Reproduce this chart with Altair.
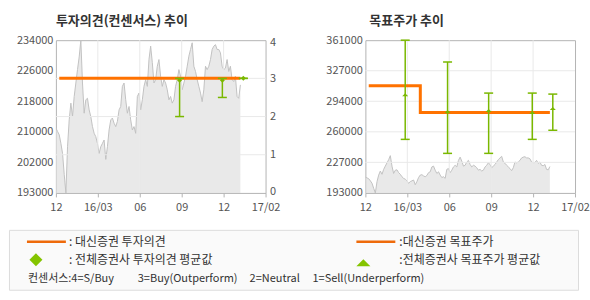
import json
import altair as alt
import numpy as np
import pandas as pd

# ---------------- data ----------------
x_labels = ["12", "16/03", "06", "09", "12", "17/02"]

# daily close, evenly spaced trading days
price = [
    210400, 209500, 208600, 206300, 203600, 198000, 193000, 205400, 212600, 217100,
    213500, 218900, 222500, 226100, 229500, 234000, 222500, 214400, 218000, 218400,
    215300, 213500, 210800, 209000, 208100, 206300, 203600, 205400, 206300, 207200,
    202000, 205400, 209900, 212600, 213100, 211700, 210800, 212200, 215300, 216200,
    221600, 222500, 218000, 214400, 216200, 212600, 209900, 210800, 209000, 218900,
    219800, 215300, 218000, 221600, 223400, 221600, 228800, 232400, 228000, 222500,
    223400, 227000, 228800, 224300, 221600, 223400, 222500, 220700, 218000, 218900,
    217100, 218000, 221600, 223400, 226100, 224300, 220700, 222500, 224300, 227000,
    229700, 231500, 233300, 227000, 225600, 223400, 221600, 219800, 217500, 220700,
    227000, 226100, 227000, 228800, 231500, 232400, 232800, 231500, 231500, 230600,
    227000, 226100, 226500, 228800, 225600, 227000, 223400, 222900, 224300, 218900,
    218400, 222000,
]
price_last_pos = 4.40

left_y_labels = ["193000", "202000", "210000", "218000", "226000", "234000"]
right_y_labels = ["193000", "227000", "260000", "294000", "327000", "361000"]
opinion_ticks = [0, 1, 2, 3, 4]

# Daishin opinion (held flat)
op_start = [0.08]
op_end = [4.40]
op_value = [3]
# consensus opinion range / average
cop_pos = [2.95, 3.97, 4.47]
cop_lo = [2.0, 2.5, 3.0]
cop_hi = [3.0, 3.0, 3.0]
cop_mean = [2.95, 2.95, 3.0]

# Daishin target price (step)
tp_pos = [0.08, 1.31, 4.40]
tp_val = [310900, 281400, 281400]
# consensus target price range / average
ctp_pos = [0.95, 1.96, 2.94, 3.98, 4.47]
ctp_hi = [361000, 337000, 302800, 302800, 301700]
ctp_lo = [251900, 236500, 236500, 251900, 261900]
ctp_mean = [300900, 282500, 283600, 281400, 285800]

legend_texts = [
    ": 대신증권 투자의견",
    ": 전체증권사 투자의견 평균값",
    ":대신증권 목표주가",
    ":전체증권사 목표주가 평균값",
]
consensus_note = ["컨센서스:4=S/Buy", "3=Buy(Outperform)", "2=Neutral", "1=Sell(Underperform)"]

# ---------------- style ----------------
ORANGE = "#ff7200"
LEG_ORANGE = "#ee6a0a"
GREEN = "#7ab800"
GRID = "#e9e9e9"
FONT = "Noto Sans CJK KR"
LABEL = "#555555"
W, H = 210, 153
TRI = "M-1,0.5L1,0.5L0,-0.5Z"
LEFT_EXT = 47  # distance from plot edge to the outer frame on the left

x_scale = alt.Scale(domain=[0, len(x_labels) - 1], nice=False, zero=False)
x_axis = alt.Axis(
    values=list(range(len(x_labels))),
    labelExpr=f"{json.dumps(x_labels)}[round(datum.value)]",
    grid=False, domain=False, ticks=True, tickSize=4, tickColor="#b4b4b4",
    labelPadding=5, labelFlush=False, labelOverlap=False, title=None,
    labelFontSize=11, labelColor=LABEL, labelFont=FONT,
)


def X(field):
    return alt.X(f"{field}:Q", scale=x_scale, axis=x_axis)


def value_axis(labels, lo, hi, orient):
    step = (hi - lo) / (len(labels) - 1)
    vals = [lo + i * step for i in range(len(labels))]
    return vals, alt.Axis(
        orient=orient, values=vals,
        labelExpr=f"{json.dumps(labels)}[round((datum.value-{lo})/{step})]",
        grid=False, ticks=False, domain=False, labelPadding=3, title=None,
        labelFontSize=11, labelColor=LABEL, labelFont=FONT,
    )


price_df = pd.DataFrame({"pos": np.linspace(0, price_last_pos, len(price)), "price": price})
vgrid_df = pd.DataFrame({"v": list(range(1, len(x_labels) - 1))})

# ---------------- left chart: opinion ----------------
lp_lo, lp_hi = int(left_y_labels[0]), 234000
_, lp_axis = value_axis(left_y_labels, lp_lo, lp_hi, "left")
lp_y = alt.Y("price:Q", scale=alt.Scale(domain=[lp_lo, lp_hi], nice=False, zero=False), axis=lp_axis)

area_l = alt.Chart(price_df).mark_area(
    color="#e0e0e0", line={"color": "#c2c2c2", "strokeWidth": 1}, clip=True
).encode(x=X("pos"), y=lp_y)

op_scale = alt.Scale(domain=[opinion_ticks[0], opinion_ticks[-1]], nice=False, zero=False)
op_axis = alt.Axis(orient="right", values=opinion_ticks, grid=False, ticks=False, domain=False,
                   labelFlush=True, labelFlushOffset=4,
                   labelPadding=4, title=None, labelFontSize=11, labelColor=LABEL, labelFont=FONT)


def OY(field):
    return alt.Y(f"{field}:Q", scale=op_scale, axis=op_axis)


hgrid_l = alt.Chart(pd.DataFrame({"v": opinion_ticks[1:-1]})).mark_rule(color=GRID).encode(y=OY("v"))
vgrid_l = alt.Chart(vgrid_df).mark_rule(color=GRID).encode(x=X("v"))
op_df = pd.DataFrame({"s": op_start, "e": op_end, "v": op_value})
op_line = alt.Chart(op_df).mark_rule(color=ORANGE, strokeWidth=3).encode(x=X("s"), x2="e:Q", y=OY("v"))
cop_df = pd.DataFrame({"pos": cop_pos, "lo": cop_lo, "hi": cop_hi, "m": cop_mean})
cop_rule = alt.Chart(cop_df).mark_rule(color=GREEN, strokeWidth=1.5).encode(x=X("pos"), y=OY("lo"), y2="hi:Q")
cop_lo_t = alt.Chart(cop_df).mark_tick(color=GREEN, orient="horizontal", size=9, thickness=1.5, opacity=1).encode(x=X("pos"), y=OY("lo"))
cop_hi_t = alt.Chart(cop_df).mark_tick(color=GREEN, orient="horizontal", size=9, thickness=1.5, opacity=1).encode(x=X("pos"), y=OY("hi"))
cop_m = alt.Chart(cop_df).mark_point(shape="diamond", filled=True, size=25, color=GREEN, opacity=1).encode(x=X("pos"), y=OY("m"))

left = alt.layer(
    area_l,
    alt.layer(hgrid_l, vgrid_l, op_line, cop_rule, cop_lo_t, cop_hi_t, cop_m),
).resolve_scale(y="independent").properties(
    width=W, height=H,
    title=alt.TitleParams("투자의견(컨센서스) 추이", anchor="start", frame="group", fontSize=13,
                          fontWeight="bold", color="#333333", offset=6, font=FONT),
)

# ---------------- right chart: target price ----------------
rp_lo, rp_hi = int(right_y_labels[0]), int(right_y_labels[-1])
rp_vals, rp_axis = value_axis(right_y_labels, rp_lo, rp_hi, "left")
rp_scale = alt.Scale(domain=[rp_lo, rp_hi], nice=False, zero=False)


def RY(field):
    return alt.Y(f"{field}:Q", scale=rp_scale, axis=rp_axis)


area_r = alt.Chart(price_df).mark_area(
    color="#e0e0e0", line={"color": "#c2c2c2", "strokeWidth": 1}, clip=True
).encode(x=X("pos"), y=RY("price"))
hgrid_r = alt.Chart(pd.DataFrame({"v": rp_vals[1:-1]})).mark_rule(color=GRID).encode(y=RY("v"))
vgrid_r = alt.Chart(vgrid_df).mark_rule(color=GRID).encode(x=X("v"))
tp_df = pd.DataFrame({"pos": tp_pos, "v": tp_val})
tp_line = alt.Chart(tp_df).mark_line(color=ORANGE, strokeWidth=3, interpolate="step-after").encode(x=X("pos"), y=RY("v"))
ctp_df = pd.DataFrame({"pos": ctp_pos, "lo": ctp_lo, "hi": ctp_hi, "m": ctp_mean})
ctp_rule = alt.Chart(ctp_df).mark_rule(color=GREEN, strokeWidth=1.5).encode(x=X("pos"), y=RY("lo"), y2="hi:Q")
ctp_lo_t = alt.Chart(ctp_df).mark_tick(color=GREEN, orient="horizontal", size=9, thickness=1.5, opacity=1).encode(x=X("pos"), y=RY("lo"))
ctp_hi_t = alt.Chart(ctp_df).mark_tick(color=GREEN, orient="horizontal", size=9, thickness=1.5, opacity=1).encode(x=X("pos"), y=RY("hi"))
ctp_m = alt.Chart(ctp_df).mark_point(shape=TRI, filled=True, size=36, color=GREEN, opacity=1).encode(x=X("pos"), y=RY("m"))

right = alt.layer(
    area_r, hgrid_r, vgrid_r, tp_line, ctp_rule, ctp_lo_t, ctp_hi_t, ctp_m
).properties(
    width=W, height=H,
    title=alt.TitleParams("목표주가 추이", anchor="start", frame="group", fontSize=13, dx=4,
                          fontWeight="bold", color="#333333", offset=6, font=FONT),
)

# ---------------- legend box ----------------
one = pd.DataFrame({"k": [0]})
L = -LEFT_EXT  # legend coordinates are relative to the plot's left edge


def txt(s, x, y, size=12):
    return alt.Chart(pd.DataFrame({"t": [s]})).mark_text(
        align="left", baseline="middle", font=FONT, fontSize=size, color="#333333"
    ).encode(text="t:N", x=alt.value(L + x), y=alt.value(y))


def seg(x1, x2, y):
    return alt.Chart(one).mark_rule(color=LEG_ORANGE, strokeWidth=2.5).encode(
        x=alt.value(L + x1), x2=alt.value(L + x2), y=alt.value(y))


LEG_W, LEG_H = 571, 61
legend = alt.layer(
    alt.Chart(one).mark_rect(fill="#fafafa", stroke="#dcdcdc", strokeWidth=1).encode(
        x=alt.value(L + 0.5), x2=alt.value(L + LEG_W - 0.5), y=alt.value(0.5), y2=alt.value(LEG_H - 0.5)),
    seg(18, 57, 12),
    txt(legend_texts[0], 60, 12),
    alt.Chart(one).mark_point(shape="diamond", filled=True, size=170, color="#84c400", opacity=1).encode(
        x=alt.value(L + 27), y=alt.value(30)),
    txt(legend_texts[1], 60, 30),
    seg(348, 387, 12),
    txt(legend_texts[2], 391, 12),
    alt.Chart(one).mark_point(shape=TRI, filled=True, size=196, color="#84c400", opacity=1).encode(
        x=alt.value(L + 355), y=alt.value(33)),
    txt(legend_texts[3], 391, 30),
    txt(consensus_note[0], 19, 49, 11),
    txt(consensus_note[1], 129, 49, 11),
    txt(consensus_note[2], 241, 49, 11),
    txt(consensus_note[3], 304, 49, 11),
).properties(width=LEG_W - LEFT_EXT, height=LEG_H,
             view=alt.ViewBackground(stroke="transparent", fill="transparent"))

chart = alt.vconcat(
    alt.hconcat(left, right, spacing=44),
    legend,
    spacing=15,
).properties(
    padding={"left": 8, "top": 14, "right": 0, "bottom": 0},
).configure(font=FONT).configure_view(stroke="#b4b4b4")

chart.save("out.html", embed_options={"renderer": "svg", "actions": False})
